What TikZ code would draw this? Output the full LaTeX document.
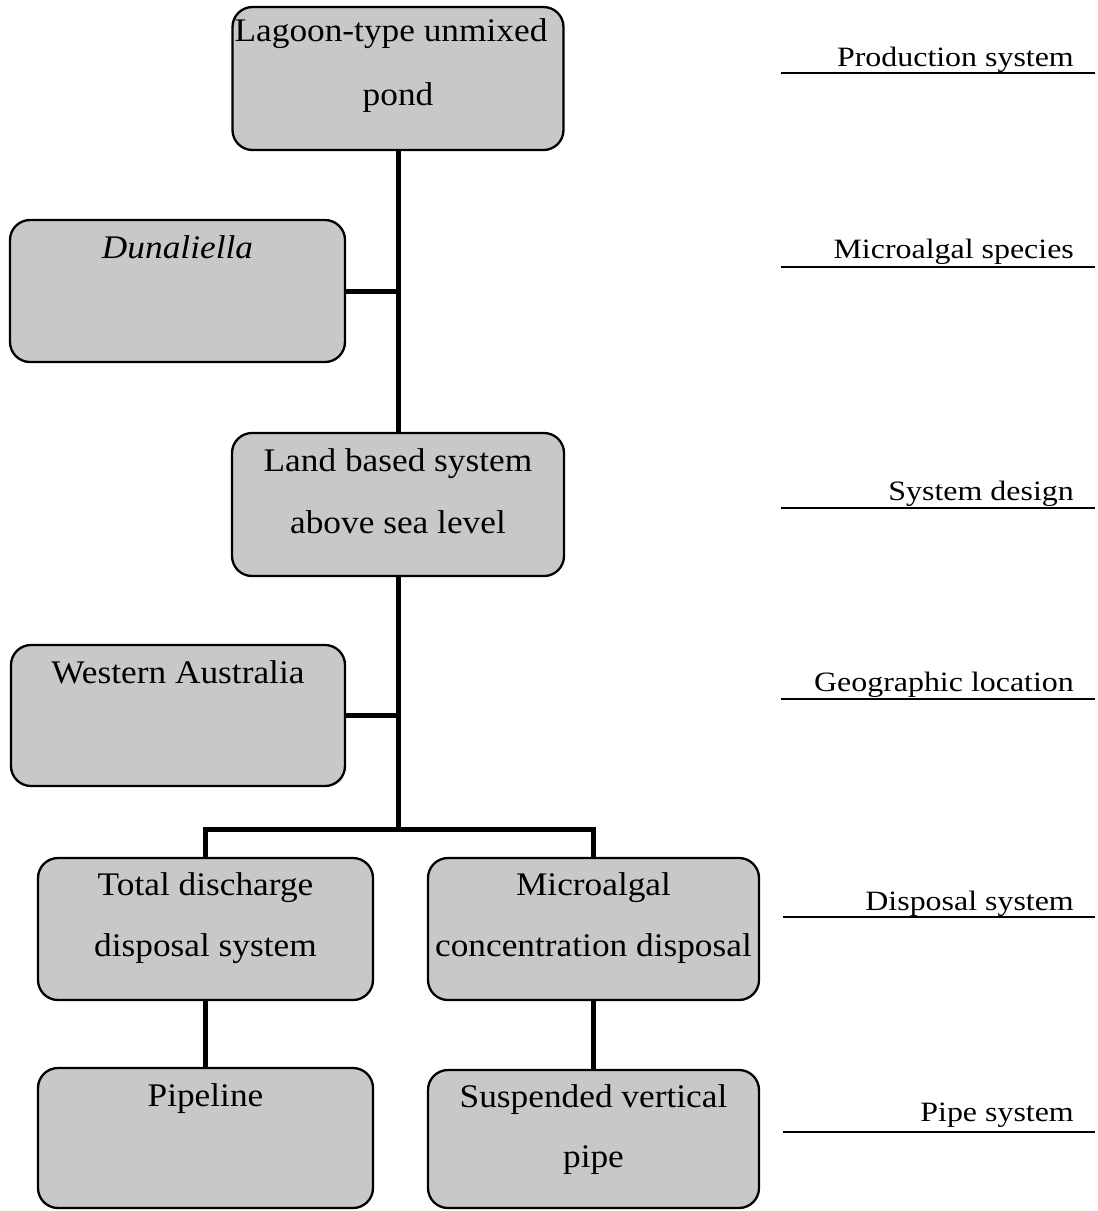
\documentclass[tikz,border=0pt]{standalone}
\usepackage{fontspec}
\newfontfamily\boxfont[FakeStretch=1.07]{Liberation Serif}
\newfontfamily\labfont[FakeStretch=1.14]{Liberation Serif}
\definecolor{boxgray}{RGB}{200,200,200}
\begin{document}
\begin{tikzpicture}[x=1pt,y=-1pt,
  box/.style={draw=black, line width=2.3pt, rounded corners=20pt, fill=boxgray, inner sep=0pt},
  txt/.style={inner sep=0pt, anchor=base, font=\boxfont\fontsize{33}{40}\selectfont},
  lab/.style={inner sep=0pt, anchor=base east, font=\labfont\fontsize{28}{34}\selectfont},
  conn/.style={draw=black, line width=5pt, line join=miter},
  uline/.style={draw=black, line width=2.5pt}]
\useasboundingbox (0,0) rectangle (1098,1211);
\fill[white] (0,0) rectangle (1098,1211);

% boxes
\coordinate (j) at (398,829);
\node[box, minimum width=331pt, minimum height=143pt] (b1) at (398,78.5) {};
\node[box, minimum width=335pt, minimum height=142pt] (b2) at (177.5,291) {};
\node[box, minimum width=332pt, minimum height=143pt] (b3) at (398,504.5) {};
\node[box, minimum width=334pt, minimum height=141pt] (b4) at (178,715.5) {};
\node[box, minimum width=335pt, minimum height=142pt] (b5) at (205.5,929) {};
\node[box, minimum width=331pt, minimum height=142pt] (b6) at (593.5,929) {};
\node[box, minimum width=335pt, minimum height=140pt] (b7) at (205.5,1138) {};
\node[box, minimum width=331pt, minimum height=138pt] (b8) at (593.5,1139) {};

% connectors
\draw[conn] (b1.south) -- (b3.north);
\draw[conn] (b2.east) -- (b2.east -| b1.south);
\draw[conn] (b3.south) -- (j);
\draw[conn] (b4.east) -- (b4.east -| b3.south);
\draw[conn] (b5.north) -- (b5.north |- j) -- (b6.north |- j) -- (b6.north);
\draw[conn] (b5.south) -- (b7.north);
\draw[conn] (b6.south) -- (b8.north);

% box texts
\node[txt] (t1a) at ([yshift=-36pt,xshift=-7pt]b1.north) {Lagoon-type unmixed};
\node[txt] (t1b) at ([yshift=-100pt]b1.north) {pond};
\node[txt] (t2a) at ([yshift=-40pt]b2.north) {\itshape Dunaliella};
\node[txt] (t3a) at ([yshift=-40pt]b3.north) {Land based system};
\node[txt] (t3b) at ([yshift=-102pt]b3.north) {above sea level};
\node[txt] (t4a) at ([yshift=-40pt]b4.north) {Western Australia};
\node[txt] (t5a) at ([yshift=-39pt]b5.north) {Total discharge};
\node[txt] (t5b) at ([yshift=-100pt]b5.north) {disposal system};
\node[txt] (t6a) at ([yshift=-39pt]b6.north) {Microalgal};
\node[txt] (t6b) at ([yshift=-100pt]b6.north) {concentration disposal};
\node[txt] (t7a) at ([yshift=-40pt]b7.north) {Pipeline};
\node[txt] (t8a) at ([yshift=-39pt]b8.north) {Suspended vertical};
\node[txt] (t8b) at ([yshift=-99pt]b8.north) {pipe};

% right-hand labels
\node[lab] (l1) at (1074,66) {Production system};
\node[lab] (l2) at (1074,258) {Microalgal species};
\node[lab] (l3) at (1074,500) {System design};
\node[lab] (l4) at (1074,691) {Geographic location};
\node[lab] (l5) at (1074,910) {Disposal system};
\node[lab] (l6) at (1074,1121) {Pipe system};
\coordinate (u1a) at (781,73);   \coordinate (u1b) at (1095,73);
\coordinate (u2a) at (781,267);  \coordinate (u2b) at (1095,267);
\coordinate (u3a) at (781,508);  \coordinate (u3b) at (1095,508);
\coordinate (u4a) at (781,699);  \coordinate (u4b) at (1095,699);
\coordinate (u5a) at (783,917);  \coordinate (u5b) at (1095,917);
\coordinate (u6a) at (783,1132); \coordinate (u6b) at (1095,1132);
\draw[uline] (u1a) -- (u1b);
\draw[uline] (u2a) -- (u2b);
\draw[uline] (u3a) -- (u3b);
\draw[uline] (u4a) -- (u4b);
\draw[uline] (u5a) -- (u5b);
\draw[uline] (u6a) -- (u6b);
\end{tikzpicture}
\end{document}
